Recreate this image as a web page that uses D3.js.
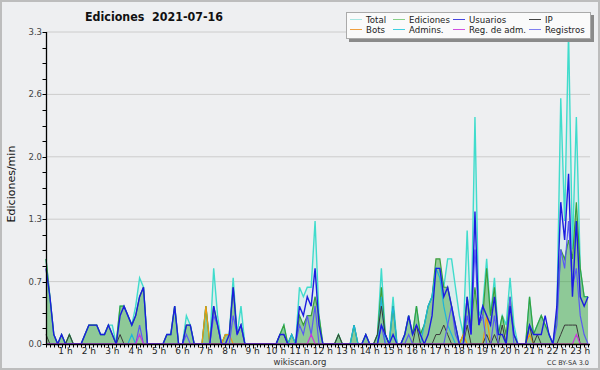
<!DOCTYPE html>
<html><head><meta charset="utf-8">
<script src="https://cdn.jsdelivr.net/npm/d3@7"></script>
<style>body{margin:0;background:#fff}svg{display:block}text{font-family:"DejaVu Sans",sans-serif}</style>
</head><body><svg id="c" width="600" height="370"></svg>
<script>
// 10-minute slots starting at 00:10
const slotMinutes = d3.range(10, 1410, 10);
const hourLabels = ["1 h","2 h","3 h","4 h","5 h","6 h","7 h","8 h","9 h","10 h","11 h","12 h","13 h","14 h","15 h","16 h","17 h","18 h","19 h","20 h","21 h","22 h","23 h"];
const yTicks = [0, 0.66, 1.32, 1.98, 2.64, 3.3];
const seriesNames = ["Total","Ediciones","Usuarios","IP","Bots","Admins.","Reg. de adm.","Registros"];

const total = [
0.9,0.5,0.1,0,0.1,0,0.1,0,0,0,
0.1,0.2,0.2,0.2,0.1,0.1,0.2,0.2,0,0.4,
0.4,0.3,0.2,0.4,0.7,0.6,0,0,0,0,
0,0.1,0.1,0.4,0,0,0.3,0.2,0,0,
0,0.4,0,0.8,0.3,0,0.1,0.1,0.7,0.1,
0.4,0,0,0,0,0,0,0,0,0,
0.1,0.2,0,0.1,0,0.6,0.5,0.6,0.6,1.3,
0.3,0,0,0,0,0.1,0,0,0,0.2,
0,0,0.1,0,0,0.1,0.8,0.1,0,0.5,
0,0,0.1,0.3,0.1,0.4,0.1,0.2,0.4,0.5,
0.8,0.8,0.6,0.9,0.9,0.6,0.3,0.1,1.2,0.2,
2.4,0.3,0.4,0.9,0.3,0.7,0.1,0.3,0.2,0.7,
0.2,0,0,0,0.5,0.1,0.2,0.3,0.2,0.1,
0,0.3,2.6,1.3,3.3,1.0,2.4,0.8,0.5,0.5];
const ediciones = [
0.9,0.5,0.1,0,0.1,0,0.1,0,0,0,
0.1,0.2,0.2,0.2,0.1,0.1,0.2,0.1,0,0.4,
0.4,0.3,0.2,0.3,0.5,0.6,0,0,0,0,
0,0.1,0.1,0.4,0,0,0.2,0.2,0,0,
0,0.4,0,0.4,0.2,0,0.1,0.1,0.6,0.1,
0.2,0,0,0,0,0,0,0,0,0,
0.1,0.2,0,0.1,0,0.3,0.2,0.3,0.3,0.5,
0.3,0,0,0,0,0.1,0,0,0,0.2,
0,0,0.1,0,0,0.1,0.6,0.1,0,0.4,
0,0,0.1,0.3,0.1,0.4,0.1,0.2,0.4,0.5,
0.9,0.9,0.6,0.6,0.4,0.2,0,0.1,0.5,0.2,
0.6,0.2,0.3,0.8,0.3,0.6,0.1,0.3,0.1,0.5,
0.1,0,0,0,0.5,0.1,0.2,0.3,0.2,0.1,
0,0.3,1.0,0.9,1.1,0.9,1.5,0.8,0.5,0.5];
const usuarios = [
0.8,0.5,0.1,0,0.1,0,0,0,0,0,
0.1,0.2,0.2,0.2,0.1,0.1,0.2,0.1,0,0.3,
0.4,0.3,0.2,0.3,0.5,0.6,0,0,0,0,
0,0.1,0.1,0.4,0,0,0.2,0.2,0,0,
0,0,0,0.4,0.2,0,0,0.1,0.6,0.1,
0.2,0,0,0,0,0,0,0,0,0,
0.1,0.1,0,0,0,0.4,0.3,0.5,0.4,0.8,
0.2,0,0,0,0,0,0,0,0,0,
0,0,0.1,0,0,0,0.2,0.1,0,0.1,
0,0,0.1,0.3,0.1,0.2,0.1,0,0.1,0.3,
0.8,0.8,0.5,0.6,0.4,0.2,0,0,0.5,0.1,
1.4,0.2,0.4,0.3,0.2,0.5,0.1,0.1,0,0.4,
0.1,0,0,0,0.2,0.1,0.1,0.1,0.3,0.1,
0,0.4,1.5,1.1,1.8,0.5,1.3,0.5,0.4,0.5];
const ip = [
0.1,0,0,0,0,0,0.1,0,0,0,
0,0,0,0,0,0,0,0,0,0.1,
0,0,0,0,0,0,0,0,0,0,
0,0,0,0,0,0,0,0,0,0,
0,0,0,0,0,0,0,0,0,0,
0,0,0,0,0,0,0,0,0,0,
0.1,0.1,0,0,0,0,0,0,0,0,
0,0,0,0,0,0.1,0,0,0,0,
0,0,0,0,0,0.1,0.4,0.1,0,0,
0,0,0,0,0,0.2,0,0,0,0,
0.1,0.1,0.2,0.1,0,0,0,0,0.2,0,
0,0,0,0.1,0,0.1,0,0.2,0,0,
0,0,0,0,0.2,0,0.1,0,0,0,
0,0,0.1,0.2,0.2,0.2,0.2,0,0,0];
const bots = [
0,0,0,0,0,0,0,0,0,0,
0,0,0,0,0,0,0,0,0,0,
0,0,0,0,0,0,0,0,0,0,
0,0,0,0,0,0,0,0,0,0,
0,0.4,0,0,0,0,0.1,0.1,0,0,
0,0,0,0,0,0,0,0,0,0,
0,0,0,0,0,0,0,0,0,0,
0,0,0,0,0,0,0,0,0,0,
0,0,0,0,0,0,0,0,0,0,
0,0,0,0,0,0,0,0,0,0,
0,0,0,0,0,0,0,0.1,0,0,
0,0,0,0.3,0,0,0,0,0,0,
0,0,0,0,0.1,0,0,0,0,0,
0,0,0,0,0,0,0,0,0,0];
const admins = [
0,0,0,0,0,0,0,0,0,0,
0,0,0,0,0,0,0,0,0,0,
0,0,0.1,0,0,0,0,0,0,0,
0,0,0,0,0,0,0,0,0,0,
0,0,0,0,0,0,0,0,0,0,
0,0,0,0,0,0,0,0,0,0,
0,0,0,0.1,0,0,0,0,0,0,
0,0,0,0,0,0,0,0,0,0.2,
0,0,0,0,0,0,0.5,0,0,0.4,
0,0,0,0,0,0,0,0.2,0.4,0.5,
0.8,0.7,0.4,0.2,0.1,0,0,0,0,0,
0,0,0,0,0,0,0,0,0,0,
0,0,0,0,0,0,0,0,0,0,
0,0,0,0,0,0,0,0,0,0];
const regAdm = [
0,0,0,0,0,0,0,0,0,0,
0,0,0,0,0,0,0,0,0,0,
0,0,0,0,0.1,0,0,0,0,0,
0,0,0,0,0,0,0,0,0,0,
0,0,0,0,0,0,0,0,0,0,
0,0,0,0,0,0,0,0,0,0,
0,0,0,0,0,0,0,0,0.1,0,
0,0,0,0,0,0,0,0,0,0,
0,0,0,0,0,0,0,0,0,0,
0,0,0,0,0,0,0,0,0,0,
0,0,0,0,0,0,0,0,0,0,
0,0,0,0,0,0,0,0,0,0,
0,0,0,0,0,0,0,0,0,0,
0,0,0,0,0,0,0.1,0,0,0];
const registros = [
0,0,0,0,0,0,0,0,0,0,
0,0,0,0,0,0,0,0,0,0,
0,0,0,0,0.2,0,0,0,0,0,
0,0,0,0,0,0,0.1,0,0,0,
0,0,0,0.3,0.2,0,0,0,0.3,0.1,
0.2,0,0,0,0,0,0,0,0,0,
0,0,0,0,0,0.2,0.1,0.3,0.1,0.4,
0,0,0,0,0,0,0,0,0,0,
0,0,0,0,0,0,0.2,0,0,0,
0,0,0,0.1,0,0,0,0,0,0,
0,0,0,0.2,0.4,0.1,0,0,0.3,0.1,
1.0,0.2,0.3,0,0,0.3,0,0,0,0.5,
0,0,0,0,0,0,0,0,0,0,
0,0.2,1.0,0.8,1.3,0.6,0.8,0.3,0.1,0];

const colors = {
  "Total":"#40dccc","Ediciones":"#3a9e3a","Usuarios":"#1c1ce0","IP":"#3a3a3a",
  "Bots":"#f09a10","Admins.":"#1eb4dc","Reg. de adm.":"#cc33dd","Registros":"#5a5af2"
};
const legendColors = {
  "Total":"#a8e6e2","Ediciones":"#88d088","Usuarios":"#4646e0","IP":"#444",
  "Bots":"#f0a040","Admins.":"#40d0e0","Reg. de adm.":"#d050e0","Registros":"#8080f0"
};

const svg = d3.select("#c");
svg.append("rect").attr("x",1).attr("y",1).attr("width",598).attr("height",368)
  .attr("fill","#eeeff1").attr("stroke","#bdbdbd").attr("stroke-width",2);

const x = d3.scaleLinear().domain([10, 1405]).range([46, 590]);
const y = d3.scaleLinear().domain([0, 3.3]).range([344, 32]);

// grid
svg.append("g").selectAll("line").data(yTicks.slice(1)).join("line")
  .attr("x1",46).attr("x2",590).attr("y1",d=>y(d)).attr("y2",d=>y(d))
  .attr("stroke","#cccccc").attr("stroke-width",1);

const mk = arr => slotMinutes.map((m,i)=>({m, v: arr[i]}));
const area = d3.area().x(d=>x(d.m)).y0(y(0)).y1(d=>y(d.v));
const line = d3.line().x(d=>x(d.m)).y(d=>y(d.v));

const plot = svg.append("g");
plot.append("path").datum(mk(total)).attr("d",area).attr("fill","rgba(64,220,204,0.10)");
plot.append("path").datum(mk(ediciones)).attr("d",area).attr("fill","rgba(50,160,50,0.46)");
plot.append("path").datum(mk(total)).attr("d",line).attr("fill","none").attr("stroke",colors["Total"]).attr("stroke-width",1.4);
plot.append("path").datum(mk(ediciones)).attr("d",line).attr("fill","none").attr("stroke",colors["Ediciones"]).attr("stroke-width",1.2);
plot.append("path").datum(mk(admins)).attr("d",line).attr("fill","none").attr("stroke",colors["Admins."]).attr("stroke-width",1.2);
plot.append("path").datum(mk(bots)).attr("d",line).attr("fill","none").attr("stroke",colors["Bots"]).attr("stroke-width",1.2);
plot.append("path").datum(mk(ip)).attr("d",line).attr("fill","none").attr("stroke",colors["IP"]).attr("stroke-width",1);
plot.append("path").datum(mk(registros)).attr("d",line).attr("fill","none").attr("stroke",colors["Registros"]).attr("stroke-width",1.2);
plot.append("path").datum(mk(usuarios)).attr("d",line).attr("fill","none").attr("stroke",colors["Usuarios"]).attr("stroke-width",1.4);
plot.append("path").datum(mk(regAdm)).attr("d",line).attr("fill","none").attr("stroke",colors["Reg. de adm."]).attr("stroke-width",1.2);

// Y axis
const minorY = d3.range(0, 21).map(k => k*0.165);
const yAxis = svg.append("g");
yAxis.selectAll("line.mi").data(minorY).join("line").attr("class","mi")
  .attr("x1",42.5).attr("x2",46).attr("y1",d=>Math.round(y(d))+0.5).attr("y2",d=>Math.round(y(d))+0.5)
  .attr("stroke","#000").attr("stroke-width",1);
yAxis.selectAll("text").data(yTicks).join("text")
  .attr("x",42).attr("y",d=>y(d)+3).attr("text-anchor","end")
  .attr("font-size",8.5).attr("fill","#444").text(d=>d.toFixed(1));
yAxis.append("line").attr("x1",46.5).attr("x2",46.5).attr("y1",32).attr("y2",344.5).attr("stroke","#000").attr("stroke-width",1.3);

// X axis
const xAxis = svg.append("g");
xAxis.append("line").attr("x1",46).attr("x2",590).attr("y1",344.5).attr("y2",344.5).attr("stroke","#000").attr("stroke-width",1.3);
const minorX = d3.range(10, 1410, 10);
xAxis.selectAll("line.t").data(minorX).join("line").attr("class","t")
  .attr("x1",d=>Math.round(x(d))+0.5).attr("x2",d=>Math.round(x(d))+0.5)
  .attr("y1",344).attr("y2",d=> d%60===0 ? 348.5 : 347.5)
  .attr("stroke","#000").attr("stroke-width",1);
xAxis.selectAll("text").data(hourLabels).join("text")
  .attr("x",(d,i)=>x((i+1)*60)).attr("y",354).attr("text-anchor","middle")
  .attr("font-size",9).attr("fill","#222").text(d=>d);

// titles
svg.append("text").attr("x",85).attr("y",21).attr("font-size",11.5).attr("font-weight","bold")
  .attr("fill","#111").attr("textLength",138).attr("lengthAdjust","spacingAndGlyphs")
  .attr("xml:space","preserve").text("Ediciones  2021-07-16");
svg.append("text").attr("transform","translate(15,184) rotate(-90)").attr("text-anchor","middle")
  .attr("font-family","DejaVu Sans Mono, monospace").attr("font-size",11).attr("fill","#111")
  .text("Ediciones/min");
svg.append("text").attr("x",300).attr("y",365).attr("text-anchor","middle")
  .attr("font-size",8.5).attr("fill","#333").text("wikiscan.org");
svg.append("text").attr("x",589).attr("y",365).attr("text-anchor","end")
  .attr("font-size",6.5).attr("fill","#333").text("CC BY-SA 3.0");

// legend
const lg = svg.append("g");
lg.append("rect").attr("x",349).attr("y",15).attr("width",245).attr("height",27).attr("fill","#8a8a8a");
lg.append("rect").attr("x",346.5).attr("y",12.5).attr("width",244).attr("height",26).attr("fill","#fafafa").attr("stroke","#aaa");
const lpos = [
  {n:"Total",x:350,y:19.5},{n:"Ediciones",x:393,y:19.5},{n:"Usuarios",x:453,y:19.5},{n:"IP",x:529,y:19.5},
  {n:"Bots",x:350,y:29.5},{n:"Admins.",x:393,y:29.5},{n:"Reg. de adm.",x:453,y:29.5},{n:"Registros",x:529,y:29.5}
];
const li = lg.selectAll("g.li").data(lpos).join("g").attr("class","li");
li.append("line").attr("x1",d=>d.x).attr("x2",d=>d.x+12).attr("y1",d=>d.y).attr("y2",d=>d.y)
  .attr("stroke",d=>legendColors[d.n]).attr("stroke-width",1);
li.append("text").attr("x",d=>d.x+16).attr("y",d=>d.y+3.2).attr("font-size",8.6).attr("fill","#222").text(d=>d.n);
</script></body></html>
